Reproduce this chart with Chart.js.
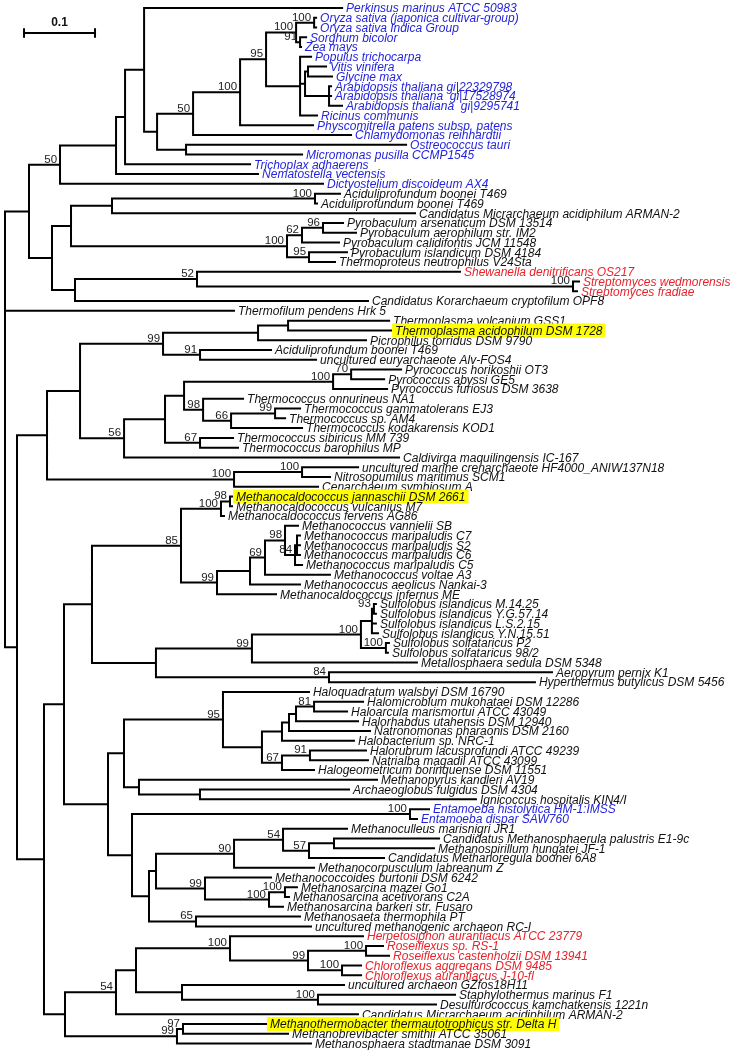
<!DOCTYPE html>
<html lang="en">
<head>
  <meta charset="UTF-8" />
  <title>Phylogenetic tree</title>
  <script src="https://cdn.jsdelivr.net/npm/chart.js"></script>
  <style>
    body { margin: 0; background: #fff; }
    canvas { display: block; }
  </style>
</head>
<body>
  <canvas id="tree" width="739" height="1050"></canvas>

  <script>
    // tip names, in the order they appear from top to bottom
    const leafNames = [
      'Perkinsus marinus ATCC 50983',
      'Oryza sativa (japonica cultivar-group)',
      'Oryza sativa Indica Group',
      'Sorghum bicolor',
      'Zea mays',
      'Populus trichocarpa',
      'Vitis vinifera',
      'Glycine max',
      'Arabidopsis thaliana gi|22329798',
      'Arabidopsis thaliana  gi|17528974',
      'Arabidopsis thaliana  gi|9295741',
      'Ricinus communis',
      'Physcomitrella patens subsp. patens',
      'Chlamydomonas reinhardtii',
      'Ostreococcus tauri',
      'Micromonas pusilla CCMP1545',
      'Trichoplax adhaerens',
      'Nematostella vectensis',
      'Dictyostelium discoideum AX4',
      'Aciduliprofundum boonei T469',
      'Aciduliprofundum boonei T469',
      'Candidatus Micrarchaeum acidiphilum ARMAN-2',
      'Pyrobaculum arsenaticum DSM 13514',
      'Pyrobaculum aerophilum str. IM2',
      'Pyrobaculum calidifontis JCM 11548',
      'Pyrobaculum islandicum DSM 4184',
      'Thermoproteus neutrophilus V24Sta',
      'Shewanella denitrificans OS217',
      'Streptomyces wedmorensis',
      'Streptomyces fradiae',
      'Candidatus Korarchaeum cryptofilum OPF8',
      'Thermofilum pendens Hrk 5',
      'Thermoplasma volcanium GSS1',
      'Thermoplasma acidophilum DSM 1728',
      'Picrophilus torridus DSM 9790',
      'Aciduliprofundum boonei T469',
      'uncultured euryarchaeote Alv-FOS4',
      'Pyrococcus horikoshii OT3',
      'Pyrococcus abyssi GE5',
      'Pyrococcus furiosus DSM 3638',
      'Thermococcus onnurineus NA1',
      'Thermococcus gammatolerans EJ3',
      'Thermococcus sp. AM4',
      'Thermococcus kodakarensis KOD1',
      'Thermococcus sibiricus MM 739',
      'Thermococcus barophilus MP',
      'Caldivirga maquilingensis IC-167',
      'uncultured marine crenarchaeote HF4000_ANIW137N18',
      'Nitrosopumilus maritimus SCM1',
      'Cenarchaeum symbiosum A',
      'Methanocaldococcus jannaschii DSM 2661',
      'Methanocaldococcus vulcanius M7',
      'Methanocaldococcus fervens AG86',
      'Methanococcus vannielii SB',
      'Methanococcus maripaludis C7',
      'Methanococcus maripaludis S2',
      'Methanococcus maripaludis C6',
      'Methanococcus maripaludis C5',
      'Methanococcus voltae A3',
      'Methanococcus aeolicus Nankai-3',
      'Methanocaldococcus infernus ME',
      'Sulfolobus islandicus M.14.25',
      'Sulfolobus islandicus Y.G.57.14',
      'Sulfolobus islandicus L.S.2.15',
      'Sulfolobus islandicus Y.N.15.51',
      'Sulfolobus solfataricus P2',
      'Sulfolobus solfataricus 98/2',
      'Metallosphaera sedula DSM 5348',
      'Aeropyrum pernix K1',
      'Hyperthermus butylicus DSM 5456',
      'Haloquadratum walsbyi DSM 16790',
      'Halomicrobium mukohataei DSM 12286',
      'Haloarcula marismortui ATCC 43049',
      'Halorhabdus utahensis DSM 12940',
      'Natronomonas pharaonis DSM 2160',
      'Halobacterium sp. NRC-1',
      'Halorubrum lacusprofundi ATCC 49239',
      'Natrialba magadii ATCC 43099',
      'Halogeometricum borinquense DSM 11551',
      'Methanopyrus kandleri AV19',
      'Archaeoglobus fulgidus DSM 4304',
      'Ignicoccus hospitalis KIN4/I',
      'Entamoeba histolytica HM-1:IMSS',
      'Entamoeba dispar SAW760',
      'Methanoculleus marisnigri JR1',
      'Candidatus Methanosphaerula palustris E1-9c',
      'Methanospirillum hungatei JF-1',
      'Candidatus Methanoregula boonei 6A8',
      'Methanocorpusculum labreanum Z',
      'Methanococcoides burtonii DSM 6242',
      'Methanosarcina mazei Go1',
      'Methanosarcina acetivorans C2A',
      'Methanosarcina barkeri str. Fusaro',
      'Methanosaeta thermophila PT',
      'uncultured methanogenic archaeon RC-I',
      'Herpetosiphon aurantiacus ATCC 23779',
      'Roseiflexus sp. RS-1',
      'Roseiflexus castenholzii DSM 13941',
      'Chloroflexus aggregans DSM 9485',
      'Chloroflexus aurantiacus J-10-fl',
      'uncultured archaeon GZfos18H11',
      'Staphylothermus marinus F1',
      'Desulfurococcus kamchatkensis 1221n',
      'Candidatus Micrarchaeum acidiphilum ARMAN-2',
      'Methanothermobacter thermautotrophicus str. Delta H',
      'Methanobrevibacter smithii ATCC 35061',
      'Methanosphaera stadtmanae DSM 3091'
    ];

    const eukaryoteTips = [0, 1, 2, 3, 4, 5, 6, 7, 8, 9, 10, 11, 12, 13, 14, 15, 16, 17, 18, 82, 83];
    const bacteriaTips = [27, 28, 29, 95, 96, 97, 98, 99];
    const highlightTips = [33, 50, 104];

    // tips are indexes into leafNames, inner labels are bootstrap values
    const treeNewick = `
    (
      (
        (
          (
            (
              (0:0.2789,
                (
                  (
                    (
                      (
                        ((1:0.0028,2:0.0028)100:0.0254,(3:0.0085,4:0.0014)91:0.0056)100:0.0423,
                        (5:0.0155,((6:0.0254,7:0.0338):0.0042,(8:0.0028,9:0.0028,10:0.0183):0.0338):0.0070,11:0.0239):0.0479
                      )95:0.0366,
                      12:0.1028
                    )100:0.0662,
                    13:0.2225
                  )50:0.0507,
                  (14:0.3099,15:0.1634):0.0408
                ):0.0183
              ):0.0268,
              16:0.1761
            ):0.0127,
            17:0.2000
          ):0.0789,
          18:0.3704
        )50:0.0437,
        (
          (
            ((19:0.0352,20:0.0028)100:0.2859,21:0.4268):0.0577,
            (((22:0.0282,23:0.0465)96:0.0296,24:0.0521)62:0.0211,(25:0.0535,26:0.0366)95:0.0310)100:0.3042
          ):0.0268,
          (
            (27:0.3704,(28:0.0085,29:0.0056)100:0.5296)52:0.1718,
            30:0.4127
          ):0.0324
        ):0.0324
      ):0.0338,
      31:0.3225,
      (
        (
          (
            (
              ((32:0.1423,33:0.1451):0.0423,34:0.1521):0.1338,
              (35:0.1000,36:0.1634)91:0.0521
            )99:0.1169,
            (
              (
                (
                  ((37:0.0704,38:0.0465)70:0.0254,39:0.0761)100:0.2099,
                  (40:0.0563,((41:0.0352,42:0.0141)99:0.0620,43:0.1000)66:0.0394)98:0.0268
                ):0.0268,
                (44:0.0465,45:0.0535)67:0.0493
              ):0.0577,
              46:0.3873
            )56:0.0620
          ):0.0465,
          ((47:0.0789,48:0.0394)100:0.0958,49:0.1183)100:0.2634
        ):0.0423,
        (
          (
            (
              (
                ((50:0.0028,51:0.0028)98:0.0127,52:0.0042)100:0.0563,
                (
                  (
                    (
                      (53:0.0183,((54:0.0042,55:0.0042,56:0.0042):0.0028,57:0.0099)84:0.0141)98:0.0282,
                      58:0.0915
                    )69:0.0211,
                    59:0.0704
                  ):0.0465,
                  60:0.0831
                )99:0.0507
              )85:0.1254,
              (
                (
                  (((61:0.0028,62:0.0028)93:0.0028,63:0.0056,64:0.0085):0.0155,(65:0.0042,66:0.0028)100:0.0352)100:0.1535,
                  67:0.2324
                )99:0.1352,
                (68:0.3141,69:0.2901)84:0.2437
              ):0.0901
            ):0.0394,
            (
              (
                (
                  70:0.1211,
                  (
                    ((((71:0.0690,72:0.0465)81:0.0254,73:0.0873):0.0099,74:0.1141):0.0099,75:0.1014):0.0282,
                    ((76:0.0789,77:0.0817)91:0.0394,78:0.0451)67:0.0282
                  ):0.0549
                )95:0.1394,
                (79:0.3352,(80:0.2099,81:0.3887):0.0859):0.0211
              ):0.0225,
              (
                (82:0.0268,83:0.0099)100:0.3915,
                (
                  (
                    (
                      (84:0.0901,((85:0.1479,86:0.1408):0.0352,87:0.1056)57:0.0366)54:0.0690,
                      88:0.1127
                    )90:0.1099,
                    (89:0.0930,((90:0.0169,91:0.0056)100:0.0225,92:0.0197)100:0.0901)99:0.0690
                  ):0.0099,
                  (93:0.1465,94:0.1620)65:0.0662
                ):0.0239
              ):0.0338
            ):0.0620
          ):0.0282,
          (
            (
              (
                (95:0.1873,((96:0.0239,97:0.0324)100:0.0817,(98:0.0268,99:0.0268)100:0.0479)99:0.1099)100:0.1324,
                (100:0.2282,(101:0.1930,102:0.1662)100:0.1915):0.0648
              ):0.0282,
              103:0.3408
            )54:0.0718,
            ((104:0.1169,105:0.1479)97:0.0085,106:0.1887)99:0.1577
          ):0.0296
        ):0.0380
      ):0.0169
    );`;

    const scaleBarLength = 0.1;
    const scaleBarLabel = '0.1';

    const LEAF_FONT = "italic 12px 'Liberation Sans', Arial, sans-serif";
    const SUPPORT_FONT = "11.5px 'Liberation Sans', Arial, sans-serif";
    const BLUE = '#2424dc';
    const RED = '#e8222a';

    function parseNewick(text) {
      const s = text.replace(/\s+/g, '');
      let i = 0;
      function readNode() {
        const node = { children: [] };
        if (s[i] === '(') {
          i++;
          node.children.push(readNode());
          while (s[i] === ',') { i++; node.children.push(readNode()); }
          i++; // ')'
        }
        let name = '';
        while (i < s.length && !',():;'.includes(s[i])) name += s[i++];
        let len = 0;
        if (s[i] === ':') {
          i++;
          let num = '';
          while (i < s.length && !',();'.includes(s[i])) num += s[i++];
          len = parseFloat(num);
        }
        node.len = len;
        if (node.children.length) node.support = name;
        else node.id = parseInt(name);
        return node;
      }
      return readNode();
    }

    // rectangular layout: x = distance from root, y = tip order
    const root = parseNewick(treeNewick);
    const tips = [];
    const inner = [];
    function place(node, parentX) {
      node.x = parentX + node.len;
      if (!node.children.length) {
        node.y = tips.length;
        tips.push(node);
      } else {
        node.children.forEach(c => place(c, node.x));
        node.y = (node.children[0].y + node.children[node.children.length - 1].y) / 2;
        inner.push(node);
      }
    }
    root.len = 0;
    place(root, 0);

    const gap = { x: NaN, y: NaN };
    const branchPoints = [];
    inner.forEach(n => {
      const first = n.children[0];
      const last = n.children[n.children.length - 1];
      branchPoints.push({ x: n.x, y: first.y }, { x: n.x, y: last.y }, gap);
      n.children.forEach(c => {
        branchPoints.push({ x: n.x, y: c.y }, { x: c.x, y: c.y }, gap);
      });
    });

    // scale bar placement (top left corner)
    const barX = 0.0268;
    const barY = 2.56;
    const barTick = 0.38;
    const barPoints = [
      { x: barX, y: barY }, { x: barX + scaleBarLength, y: barY }, gap,
      { x: barX, y: barY - barTick }, { x: barX, y: barY + barTick }, gap,
      { x: barX + scaleBarLength, y: barY - barTick }, { x: barX + scaleBarLength, y: barY + barTick }
    ];

    function tipColor(id) {
      if (eukaryoteTips.includes(id)) return BLUE;
      if (bacteriaTips.includes(id)) return RED;
      return '#111';
    }

    const labelsPlugin = {
      id: 'treeLabels',
      afterDatasetsDraw(chart) {
        const ctx = chart.ctx;
        const xs = chart.scales.x;
        const ys = chart.scales.y;
        ctx.save();

        ctx.font = LEAF_FONT;
        ctx.textAlign = 'left';
        ctx.textBaseline = 'middle';
        tips.forEach(t => {
          const px = xs.getPixelForValue(t.x) + 4;
          const py = ys.getPixelForValue(t.y);
          const name = leafNames[t.id];
          if (highlightTips.includes(t.id)) {
            const w = ctx.measureText(name).width;
            ctx.fillStyle = '#ffff00';
            ctx.fillRect(px - 3, py - 7, w + 6, 14);
          }
          ctx.fillStyle = tipColor(t.id);
          ctx.fillText(name, px, py + 1);
        });

        ctx.font = SUPPORT_FONT;
        ctx.textAlign = 'right';
        ctx.textBaseline = 'alphabetic';
        ctx.fillStyle = '#222';
        inner.forEach(n => {
          if (!n.support) return;
          ctx.fillText(n.support, xs.getPixelForValue(n.x) - 3, ys.getPixelForValue(n.y) - 2);
        });

        ctx.font = "bold 12px 'Liberation Sans', Arial, sans-serif";
        ctx.textAlign = 'center';
        ctx.fillStyle = '#111';
        ctx.fillText(scaleBarLabel,
          xs.getPixelForValue(barX + scaleBarLength / 2),
          ys.getPixelForValue(barY) - 7);

        ctx.restore();
      }
    };

    new Chart(document.getElementById('tree').getContext('2d'), {
      type: 'line',
      data: {
        datasets: [
          {
            label: 'branches',
            data: branchPoints,
            borderColor: '#000',
            borderWidth: 2,
            borderCapStyle: 'square',
            pointRadius: 0,
            spanGaps: false,
            tension: 0,
            fill: false
          },
          {
            label: 'scale',
            data: barPoints,
            borderColor: '#000',
            borderWidth: 2,
            borderCapStyle: 'square',
            pointRadius: 0,
            spanGaps: false,
            tension: 0,
            fill: false
          }
        ]
      },
      options: {
        responsive: false,
        animation: false,
        devicePixelRatio: 1,
        layout: { padding: 0 },
        plugins: { legend: { display: false }, tooltip: { enabled: false } },
        scales: {
          x: { type: 'linear', display: false, min: -0.00704, max: 1.0338 },
          y: { type: 'linear', display: false, reverse: true, min: -0.8188, max: 106.653 }
        }
      },
      plugins: [labelsPlugin]
    });
  </script>
</body>
</html>
